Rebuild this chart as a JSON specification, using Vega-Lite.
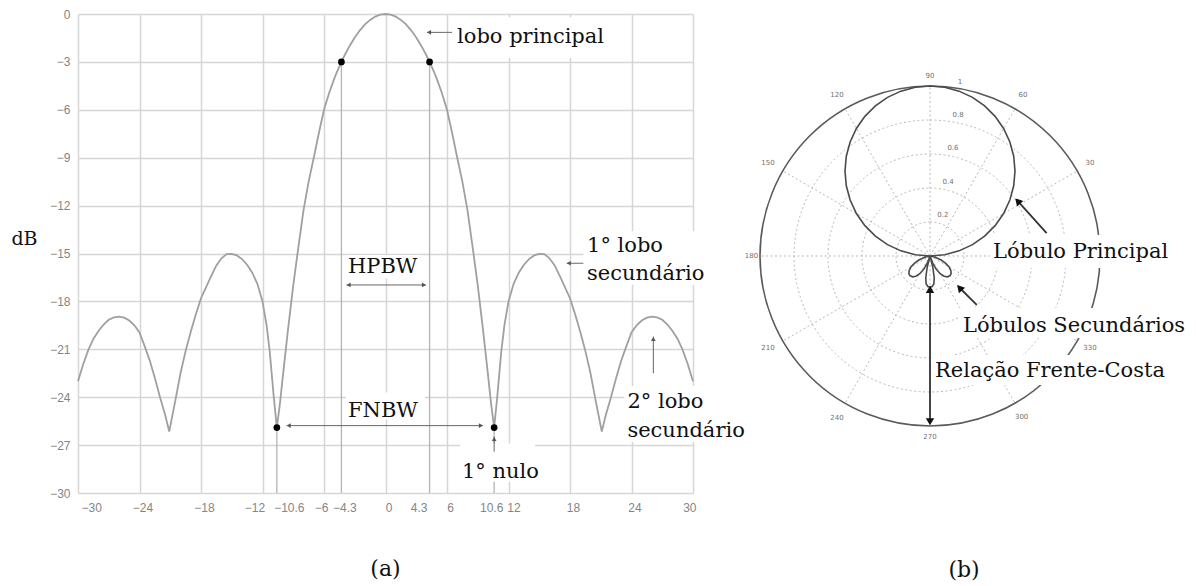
{
  "$schema": "https://vega.github.io/schema/vega-lite/v6.json",
  "background": "white",
  "padding": {"left": 10, "top": 8, "right": 0, "bottom": 0},
  "spacing": 50,
  "bounds": "flush",
  "config": {"view": {"stroke": null}},
  "datasets": {
    "lobe": [
      {"angle": -30, "db": -23.0}, {"angle": -29.5, "db": -21.95}, {"angle": -29, "db": -21.05}, {"angle": -28.5, "db": -20.35},
      {"angle": -28, "db": -19.85}, {"angle": -27.5, "db": -19.45}, {"angle": -27, "db": -19.15}, {"angle": -26.5, "db": -19.0},
      {"angle": -26, "db": -18.95}, {"angle": -25.5, "db": -19.02}, {"angle": -25, "db": -19.2}, {"angle": -24.5, "db": -19.5},
      {"angle": -24, "db": -19.95}, {"angle": -23.5, "db": -20.8}, {"angle": -23, "db": -21.7}, {"angle": -22.5, "db": -22.8},
      {"angle": -22, "db": -24.0}, {"angle": -21.5, "db": -25.1}, {"angle": -21.1, "db": -26.15}, {"angle": -20.5, "db": -24.2},
      {"angle": -20, "db": -22.5}, {"angle": -19.5, "db": -21.1}, {"angle": -19, "db": -19.9}, {"angle": -18.5, "db": -18.8},
      {"angle": -18, "db": -17.8}, {"angle": -17.5, "db": -17.1}, {"angle": -17, "db": -16.4}, {"angle": -16.5, "db": -15.75},
      {"angle": -16, "db": -15.3}, {"angle": -15.5, "db": -15.04}, {"angle": -15, "db": -15.02}, {"angle": -14.5, "db": -15.12},
      {"angle": -14, "db": -15.35}, {"angle": -13.5, "db": -15.7}, {"angle": -13, "db": -16.2}, {"angle": -12.5, "db": -16.9},
      {"angle": -12, "db": -18.0}, {"angle": -11.6, "db": -19.5}, {"angle": -11.3, "db": -21.1}, {"angle": -10.9, "db": -24.0},
      {"angle": -10.6, "db": -25.9}, {"angle": -10.3, "db": -24.4}, {"angle": -10, "db": -22.6}, {"angle": -9.5, "db": -19.7},
      {"angle": -9, "db": -17.0}, {"angle": -8.5, "db": -14.6}, {"angle": -8, "db": -12.3}, {"angle": -7.5, "db": -10.5},
      {"angle": -7, "db": -9.0}, {"angle": -6.5, "db": -7.45}, {"angle": -6, "db": -6.0}, {"angle": -5.5, "db": -4.95},
      {"angle": -5, "db": -4.05}, {"angle": -4.75, "db": -3.65}, {"angle": -4.3, "db": -3.0}, {"angle": -4, "db": -2.6},
      {"angle": -3.5, "db": -2.0}, {"angle": -3, "db": -1.47}, {"angle": -2.5, "db": -1.02}, {"angle": -2, "db": -0.65},
      {"angle": -1.5, "db": -0.37}, {"angle": -1, "db": -0.16}, {"angle": -0.5, "db": -0.04}, {"angle": 0, "db": 0},
      {"angle": 0.5, "db": -0.04}, {"angle": 1, "db": -0.16}, {"angle": 1.5, "db": -0.37}, {"angle": 2, "db": -0.65},
      {"angle": 2.5, "db": -1.02}, {"angle": 3, "db": -1.47}, {"angle": 3.5, "db": -2.0}, {"angle": 4, "db": -2.6},
      {"angle": 4.3, "db": -3.0}, {"angle": 4.75, "db": -3.65}, {"angle": 5, "db": -4.05}, {"angle": 5.5, "db": -4.95},
      {"angle": 6, "db": -6.0}, {"angle": 6.5, "db": -7.45}, {"angle": 7, "db": -9.0}, {"angle": 7.5, "db": -10.5},
      {"angle": 8, "db": -12.3}, {"angle": 8.5, "db": -14.6}, {"angle": 9, "db": -17.0}, {"angle": 9.5, "db": -19.7},
      {"angle": 10, "db": -22.6}, {"angle": 10.3, "db": -24.4}, {"angle": 10.6, "db": -25.9}, {"angle": 10.9, "db": -24.0},
      {"angle": 11.3, "db": -21.1}, {"angle": 11.6, "db": -19.5}, {"angle": 12, "db": -18.0}, {"angle": 12.5, "db": -16.9},
      {"angle": 13, "db": -16.2}, {"angle": 13.5, "db": -15.7}, {"angle": 14, "db": -15.35}, {"angle": 14.5, "db": -15.12},
      {"angle": 15, "db": -15.02}, {"angle": 15.5, "db": -15.04}, {"angle": 16, "db": -15.3}, {"angle": 16.5, "db": -15.75},
      {"angle": 17, "db": -16.4}, {"angle": 17.5, "db": -17.1}, {"angle": 18, "db": -17.8}, {"angle": 18.5, "db": -18.8},
      {"angle": 19, "db": -19.9}, {"angle": 19.5, "db": -21.1}, {"angle": 20, "db": -22.5}, {"angle": 20.5, "db": -24.2},
      {"angle": 21.1, "db": -26.15}, {"angle": 21.5, "db": -25.1}, {"angle": 22, "db": -24.0}, {"angle": 22.5, "db": -22.8},
      {"angle": 23, "db": -21.7}, {"angle": 23.5, "db": -20.8}, {"angle": 24, "db": -19.95}, {"angle": 24.5, "db": -19.5},
      {"angle": 25, "db": -19.2}, {"angle": 25.5, "db": -19.02}, {"angle": 26, "db": -18.95}, {"angle": 26.5, "db": -19.0},
      {"angle": 27, "db": -19.15}, {"angle": 27.5, "db": -19.45}, {"angle": 28, "db": -19.85}, {"angle": 28.5, "db": -20.35},
      {"angle": 29, "db": -21.05}, {"angle": 29.5, "db": -21.95}, {"angle": 30, "db": -23.0}
    ],
    "markers": [
      {"angle": -10.6, "db": -25.9}, {"angle": -4.3, "db": -3.0}, {"angle": 4.3, "db": -3.0}, {"angle": 10.6, "db": -25.9}
    ],
    "boxesA": [
      {"angle": 6.5, "angle2": 21.9, "db": -0.2, "db2": -2.75},
      {"angle": -3.7, "angle2": 3.6, "db": -15.1, "db2": -16.55},
      {"angle": -3.85, "angle2": 3.85, "db": -23.7, "db2": -25.4},
      {"angle": 19.3, "angle2": 31.2, "db": -13.6, "db2": -16.95},
      {"angle": 23.3, "angle2": 35.1, "db": -23.3, "db2": -26.8},
      {"angle": 7.3, "angle2": 14.6, "db": -26.9, "db2": -29.3}
    ],
    "arrowsA": [
      {"angle": 4.05, "angle2": 6.5, "db": -1.15, "db2": -1.15},
      {"angle": -3.8, "angle2": 3.95, "db": -16.97, "db2": -16.97},
      {"angle": -9.64, "angle2": 9.51, "db": -25.78, "db2": -25.78},
      {"angle": 17.68, "angle2": 19.3, "db": -15.61, "db2": -15.61},
      {"angle": 26.13, "angle2": 26.13, "db": -20.2, "db2": -22.5},
      {"angle": 10.6, "angle2": 10.6, "db": -26.47, "db2": -27.41}
    ],
    "headsA": [
      {"angle": 4.25, "db": -1.15, "dir": "left"},
      {"angle": -3.6, "db": -16.97, "dir": "left"},
      {"angle": -9.44, "db": -25.78, "dir": "left"},
      {"angle": 17.88, "db": -15.61, "dir": "left"},
      {"angle": 3.75, "db": -16.97, "dir": "right"},
      {"angle": 9.31, "db": -25.78, "dir": "right"},
      {"angle": 26.13, "db": -20.35, "dir": "up"},
      {"angle": 10.6, "db": -26.62, "dir": "up"}
    ],
    "textsA": [
      {"angle": 6.98, "db": -1.84, "label": "lobo principal"},
      {"angle": -3.66, "db": -16.2, "label": "HPBW"},
      {"angle": -3.66, "db": -25.23, "label": "FNBW"},
      {"angle": 19.66, "db": -14.9, "label": "1° lobo"},
      {"angle": 19.66, "db": -16.66, "label": "secundário"},
      {"angle": 23.6, "db": -24.67, "label": "2° lobo"},
      {"angle": 23.6, "db": -26.49, "label": "secundário"},
      {"angle": 7.46, "db": -29.05, "label": "1° nulo"}
    ],
    "rings": [{"r": 0.2}, {"r": 0.4}, {"r": 0.6}, {"r": 0.8}, {"r": 1.0}],
    "spokes": [
      {"horiz": 0, "vert": 0, "horiz2": 1, "vert2": 0}, {"horiz": 0, "vert": 0, "horiz2": 0.866, "vert2": 0.5},
      {"horiz": 0, "vert": 0, "horiz2": 0.5, "vert2": 0.866}, {"horiz": 0, "vert": 0, "horiz2": 0, "vert2": 1},
      {"horiz": 0, "vert": 0, "horiz2": -0.5, "vert2": 0.866}, {"horiz": 0, "vert": 0, "horiz2": -0.866, "vert2": 0.5},
      {"horiz": 0, "vert": 0, "horiz2": -1, "vert2": 0}, {"horiz": 0, "vert": 0, "horiz2": -0.866, "vert2": -0.5},
      {"horiz": 0, "vert": 0, "horiz2": -0.5, "vert2": -0.866}, {"horiz": 0, "vert": 0, "horiz2": 0, "vert2": -1},
      {"horiz": 0, "vert": 0, "horiz2": 0.5, "vert2": -0.866}, {"horiz": 0, "vert": 0, "horiz2": 0.866, "vert2": -0.5}
    ],
    "pattern": [
      {"t": 0, "horiz": 0, "vert": 0}, {"t": 5, "horiz": 0.0868, "vert": 0.0076}, {"t": 10, "horiz": 0.171, "vert": 0.0302},
      {"t": 15, "horiz": 0.25, "vert": 0.067}, {"t": 20, "horiz": 0.3214, "vert": 0.117}, {"t": 25, "horiz": 0.383, "vert": 0.1786},
      {"t": 30, "horiz": 0.433, "vert": 0.25}, {"t": 35, "horiz": 0.4698, "vert": 0.329}, {"t": 40, "horiz": 0.4924, "vert": 0.4132},
      {"t": 45, "horiz": 0.5, "vert": 0.5}, {"t": 50, "horiz": 0.4924, "vert": 0.5868}, {"t": 55, "horiz": 0.4698, "vert": 0.671},
      {"t": 60, "horiz": 0.433, "vert": 0.75}, {"t": 65, "horiz": 0.383, "vert": 0.8214}, {"t": 70, "horiz": 0.3214, "vert": 0.883},
      {"t": 75, "horiz": 0.25, "vert": 0.933}, {"t": 80, "horiz": 0.171, "vert": 0.9698}, {"t": 85, "horiz": 0.0868, "vert": 0.9924},
      {"t": 90, "horiz": 0, "vert": 1}, {"t": 95, "horiz": -0.0868, "vert": 0.9924}, {"t": 100, "horiz": -0.171, "vert": 0.9698},
      {"t": 105, "horiz": -0.25, "vert": 0.933}, {"t": 110, "horiz": -0.3214, "vert": 0.883}, {"t": 115, "horiz": -0.383, "vert": 0.8214},
      {"t": 120, "horiz": -0.433, "vert": 0.75}, {"t": 125, "horiz": -0.4698, "vert": 0.671}, {"t": 130, "horiz": -0.4924, "vert": 0.5868},
      {"t": 135, "horiz": -0.5, "vert": 0.5}, {"t": 140, "horiz": -0.4924, "vert": 0.4132}, {"t": 145, "horiz": -0.4698, "vert": 0.329},
      {"t": 150, "horiz": -0.433, "vert": 0.25}, {"t": 155, "horiz": -0.383, "vert": 0.1786}, {"t": 160, "horiz": -0.3214, "vert": 0.117},
      {"t": 165, "horiz": -0.25, "vert": 0.067}, {"t": 170, "horiz": -0.171, "vert": 0.0302}, {"t": 175, "horiz": -0.0868, "vert": 0.0076},
      {"t": 180, "horiz": 0, "vert": 0}, {"t": 190, "horiz": -0.0197, "vert": -0.0035}, {"t": 200, "horiz": -0.0658, "vert": -0.0239},
      {"t": 205, "horiz": -0.0906, "vert": -0.0423}, {"t": 210, "horiz": -0.1126, "vert": -0.065}, {"t": 215, "horiz": -0.1229, "vert": -0.086},
      {"t": 220, "horiz": -0.1241, "vert": -0.1041}, {"t": 225, "horiz": -0.1167, "vert": -0.1167}, {"t": 230, "horiz": -0.1028, "vert": -0.1226},
      {"t": 235, "horiz": -0.0832, "vert": -0.1188}, {"t": 240, "horiz": -0.06, "vert": -0.1039}, {"t": 245, "horiz": -0.0359, "vert": -0.077},
      {"t": 250, "horiz": -0.0137, "vert": -0.0376}, {"t": 253, "horiz": 0, "vert": 0}, {"t": 256, "horiz": -0.0169, "vert": -0.0679},
      {"t": 259, "horiz": -0.0248, "vert": -0.1276}, {"t": 262, "horiz": -0.023, "vert": -0.1634}, {"t": 266, "horiz": -0.0126, "vert": -0.1796},
      {"t": 270, "horiz": 0, "vert": -0.183}, {"t": 274, "horiz": 0.0126, "vert": -0.1796}, {"t": 278, "horiz": 0.023, "vert": -0.1634},
      {"t": 281, "horiz": 0.0248, "vert": -0.1276}, {"t": 284, "horiz": 0.0169, "vert": -0.0679}, {"t": 287, "horiz": 0, "vert": 0},
      {"t": 290, "horiz": 0.0137, "vert": -0.0376}, {"t": 295, "horiz": 0.0359, "vert": -0.077}, {"t": 300, "horiz": 0.06, "vert": -0.1039},
      {"t": 305, "horiz": 0.0832, "vert": -0.1188}, {"t": 310, "horiz": 0.1028, "vert": -0.1226}, {"t": 315, "horiz": 0.1167, "vert": -0.1167},
      {"t": 320, "horiz": 0.1241, "vert": -0.1041}, {"t": 325, "horiz": 0.1229, "vert": -0.086}, {"t": 330, "horiz": 0.1126, "vert": -0.065},
      {"t": 335, "horiz": 0.0906, "vert": -0.0423}, {"t": 340, "horiz": 0.0658, "vert": -0.0239}, {"t": 350, "horiz": 0.0197, "vert": -0.0035},
      {"t": 360, "horiz": 0, "vert": 0}
    ],
    "polarLabels": [
      {"horiz": 0, "vert": 1.059, "label": "90"}, {"horiz": 0.547, "vert": 0.947, "label": "60"},
      {"horiz": 0.941, "vert": 0.547, "label": "30"}, {"horiz": -0.547, "vert": 0.947, "label": "120"},
      {"horiz": -0.953, "vert": 0.547, "label": "150"}, {"horiz": -1.05, "vert": 0, "label": "180"},
      {"horiz": -0.953, "vert": -0.541, "label": "210"}, {"horiz": -0.547, "vert": -0.953, "label": "240"},
      {"horiz": 0, "vert": -1.065, "label": "270"}, {"horiz": 0.539, "vert": -0.945, "label": "300"},
      {"horiz": 0.941, "vert": -0.541, "label": "330"},
      {"horiz": 0.176, "vert": 1.024, "label": "1"}, {"horiz": 0.165, "vert": 0.829, "label": "0.8"},
      {"horiz": 0.135, "vert": 0.635, "label": "0.6"}, {"horiz": 0.106, "vert": 0.435, "label": "0.4"},
      {"horiz": 0.076, "vert": 0.241, "label": "0.2"}
    ],
    "boxesB": [
      {"horiz": 0.353, "horiz2": 1.412, "vert": 0.124, "vert2": -0.071},
      {"horiz": 0.176, "horiz2": 1.53, "vert": -0.306, "vert2": -0.482},
      {"horiz": 0.018, "horiz2": 1.382, "vert": -0.582, "vert2": -0.759}
    ],
    "arrowsB": [
      {"horiz": 0.686, "horiz2": 0.51, "vert": 0.135, "vert2": 0.33},
      {"horiz": 0.275, "horiz2": 0.165, "vert": -0.288, "vert2": -0.178},
      {"horiz": 0, "horiz2": 0, "vert": -0.19, "vert2": -0.98}
    ],
    "headsB": [
      {"horiz": 0.516, "vert": 0.323, "dir": "upleft"},
      {"horiz": 0.174, "vert": -0.187, "dir": "upleft"},
      {"horiz": 0, "vert": -0.196, "dir": "up"},
      {"horiz": 0, "vert": -0.975, "dir": "down"}
    ],
    "textsB": [
      {"horiz": 0.371, "vert": -0.012, "label": "Lóbulo Principal"},
      {"horiz": 0.194, "vert": -0.445, "label": "Lóbulos Secundários"},
      {"horiz": 0.029, "vert": -0.71, "label": "Relação Frente-Costa"}
    ]
  },
  "hconcat": [
    {
      "width": 615,
      "height": 479,
      "title": {"text": "(a)", "orient": "bottom", "offset": 46, "font": "DejaVu Serif", "fontSize": 22, "fontWeight": "normal", "color": "#111"},
      "layer": [
        {
          "data": {"name": "markers"},
          "mark": {"type": "rule", "color": "#b4b4b4", "strokeWidth": 1.3},
          "encoding": {
            "x": {
              "field": "angle", "type": "quantitative",
              "scale": {"domain": [-30, 30], "nice": false, "zero": false},
              "axis": {
                "title": null,
                "values": [-30, -24, -18, -12, -10.6, -6, -4.3, 0, 4.3, 6, 10.6, 12, 18, 24, 30],
                "format": ".3~g",
                "domain": false, "ticks": false, "tickSize": 0,
                "grid": true, "gridColor": "#d6d6d6", "gridWidth": 1.5,
                "gridOpacity": {"condition": {"test": "abs(datum.value) == 10.6 || abs(datum.value) == 4.3", "value": 0}, "value": 1},
                "labelFont": "Liberation Sans", "labelFontSize": 12, "labelColor": "#858585",
                "labelPadding": 9, "labelOverlap": false,
                "labelOffset": {"condition": [
                  {"test": "datum.value == -12", "value": -8},
                  {"test": "datum.value == -10.6", "value": 12},
                  {"test": "datum.value == 4.3", "value": -11},
                  {"test": "datum.value == -6", "value": -3},
                  {"test": "datum.value == 10.6", "value": -3},
                  {"test": "datum.value == 12", "value": 5}
                ], "value": 3}
              }
            },
            "y": {
              "field": "db", "type": "quantitative",
              "scale": {"domain": [-30, 0], "nice": false, "zero": false},
              "axis": {
                "title": "dB",
                "values": [0, -3, -6, -9, -12, -15, -18, -21, -24, -27, -30],
                "format": ".3~g",
                "domain": false, "ticks": false, "tickSize": 0,
                "grid": true, "gridColor": "#d6d6d6", "gridWidth": 1.5,
                "labelFont": "Liberation Sans", "labelFontSize": 12, "labelColor": "#858585",
                "labelPadding": 8,
                "titleAngle": 0, "titleX": -54, "titleY": 230,
                "titleAlign": "center", "titleBaseline": "alphabetic",
                "titleFont": "DejaVu Serif", "titleFontSize": 19, "titleFontWeight": "normal", "titleColor": "#111"
              }
            },
            "y2": {"datum": -30}
          }
        },
        {
          "data": {"name": "boxesA"},
          "mark": {"type": "rect", "color": "white"},
          "encoding": {
            "x": {"field": "angle", "type": "quantitative"},
            "x2": {"field": "angle2"},
            "y": {"field": "db", "type": "quantitative"},
            "y2": {"field": "db2"}
          }
        },
        {
          "data": {"name": "lobe"},
          "mark": {"type": "line", "color": "#a0a0a0", "strokeWidth": 1.8},
          "encoding": {
            "x": {"field": "angle", "type": "quantitative"},
            "y": {"field": "db", "type": "quantitative"}
          }
        },
        {
          "data": {"name": "markers"},
          "mark": {"type": "point", "filled": true, "color": "black", "size": 45, "opacity": 1},
          "encoding": {
            "x": {"field": "angle", "type": "quantitative"},
            "y": {"field": "db", "type": "quantitative"}
          }
        },
        {
          "data": {"name": "arrowsA"},
          "mark": {"type": "rule", "color": "#666", "strokeWidth": 1},
          "encoding": {
            "x": {"field": "angle", "type": "quantitative"},
            "x2": {"field": "angle2"},
            "y": {"field": "db", "type": "quantitative"},
            "y2": {"field": "db2"}
          }
        },
        {
          "data": {"name": "headsA"},
          "transform": [{"filter": "datum.dir == 'left'"}],
          "mark": {"type": "point", "shape": "triangle-left", "filled": true, "color": "#555", "size": 22, "opacity": 1},
          "encoding": {
            "x": {"field": "angle", "type": "quantitative"},
            "y": {"field": "db", "type": "quantitative"}
          }
        },
        {
          "data": {"name": "headsA"},
          "transform": [{"filter": "datum.dir == 'right'"}],
          "mark": {"type": "point", "shape": "triangle-right", "filled": true, "color": "#555", "size": 22, "opacity": 1},
          "encoding": {
            "x": {"field": "angle", "type": "quantitative"},
            "y": {"field": "db", "type": "quantitative"}
          }
        },
        {
          "data": {"name": "headsA"},
          "transform": [{"filter": "datum.dir == 'up'"}],
          "mark": {"type": "point", "shape": "triangle-up", "filled": true, "color": "#555", "size": 22, "opacity": 1},
          "encoding": {
            "x": {"field": "angle", "type": "quantitative"},
            "y": {"field": "db", "type": "quantitative"}
          }
        },
        {
          "data": {"name": "textsA"},
          "mark": {"type": "text", "align": "left", "baseline": "alphabetic", "font": "DejaVu Serif", "fontSize": 21, "color": "#111"},
          "encoding": {
            "x": {"field": "angle", "type": "quantitative"},
            "y": {"field": "db", "type": "quantitative"},
            "text": {"field": "label"}
          }
        }
      ]
    },
    {
      "width": 442,
      "height": 479,
      "title": {"text": "(b)", "orient": "bottom", "offset": 67, "font": "DejaVu Serif", "fontSize": 22, "fontWeight": "normal", "color": "#111"},
      "layer": [
        {
          "data": {"name": "rings"},
          "transform": [{"filter": "datum.r < 1"}],
          "mark": {"type": "arc", "theta": 0, "theta2": 6.2832, "filled": false, "stroke": "#b8b8b8", "strokeWidth": 1, "strokeDash": [2, 2.5]},
          "encoding": {
            "x": {"datum": 0, "type": "quantitative", "scale": {"domain": [-1.1, 1.5], "nice": false, "zero": false}, "axis": null},
            "y": {"datum": 0, "type": "quantitative", "scale": {"domain": [-1.3941, 1.4235], "nice": false, "zero": false}, "axis": null},
            "radius": {"field": "r", "type": "quantitative", "stack": null, "scale": {"type": "linear", "domain": [0, 1], "range": [0, 170], "zero": true, "nice": false}}
          }
        },
        {
          "data": {"name": "spokes"},
          "mark": {"type": "rule", "color": "#b8b8b8", "strokeWidth": 1, "strokeDash": [2, 2.5]},
          "encoding": {
            "x": {"field": "horiz", "type": "quantitative", "axis": null},
            "y": {"field": "vert", "type": "quantitative", "axis": null},
            "x2": {"field": "horiz2"},
            "y2": {"field": "vert2"}
          }
        },
        {
          "data": {"name": "rings"},
          "transform": [{"filter": "datum.r == 1"}],
          "mark": {"type": "arc", "theta": 0, "theta2": 6.2832, "filled": false, "stroke": "#5a5a5a", "strokeWidth": 1.6},
          "encoding": {
            "x": {"datum": 0, "type": "quantitative", "axis": null},
            "y": {"datum": 0, "type": "quantitative", "axis": null},
            "radius": {"field": "r", "type": "quantitative", "stack": null}
          }
        },
        {
          "data": {"name": "polarLabels"},
          "mark": {"type": "text", "align": "center", "baseline": "middle", "font": "DejaVu Sans", "fontSize": 7, "color": "#707070"},
          "encoding": {
            "x": {"field": "horiz", "type": "quantitative", "axis": null},
            "y": {"field": "vert", "type": "quantitative", "axis": null},
            "text": {"field": "label"}
          }
        },
        {
          "data": {"name": "boxesB"},
          "mark": {"type": "rect", "color": "white"},
          "encoding": {
            "x": {"field": "horiz", "type": "quantitative", "axis": null},
            "x2": {"field": "horiz2"},
            "y": {"field": "vert", "type": "quantitative", "axis": null},
            "y2": {"field": "vert2"}
          }
        },
        {
          "data": {"name": "pattern"},
          "mark": {"type": "line", "color": "#4a4a4a", "strokeWidth": 1.6},
          "encoding": {
            "x": {"field": "horiz", "type": "quantitative", "axis": null},
            "y": {"field": "vert", "type": "quantitative", "axis": null},
            "order": {"field": "t", "type": "quantitative"}
          }
        },
        {
          "data": {"name": "arrowsB"},
          "mark": {"type": "rule", "color": "#333", "strokeWidth": 1.8},
          "encoding": {
            "x": {"field": "horiz", "type": "quantitative", "axis": null},
            "x2": {"field": "horiz2"},
            "y": {"field": "vert", "type": "quantitative", "axis": null},
            "y2": {"field": "vert2"}
          }
        },
        {
          "data": {"name": "headsB"},
          "transform": [{"filter": "datum.dir == 'upleft'"}],
          "mark": {"type": "point", "shape": "triangle-up", "angle": 318, "filled": true, "color": "#111", "size": 70, "opacity": 1},
          "encoding": {
            "x": {"field": "horiz", "type": "quantitative", "axis": null},
            "y": {"field": "vert", "type": "quantitative", "axis": null}
          }
        },
        {
          "data": {"name": "headsB"},
          "transform": [{"filter": "datum.dir == 'up'"}],
          "mark": {"type": "point", "shape": "triangle-up", "filled": true, "color": "#111", "size": 70, "opacity": 1},
          "encoding": {
            "x": {"field": "horiz", "type": "quantitative", "axis": null},
            "y": {"field": "vert", "type": "quantitative", "axis": null}
          }
        },
        {
          "data": {"name": "headsB"},
          "transform": [{"filter": "datum.dir == 'down'"}],
          "mark": {"type": "point", "shape": "triangle-down", "filled": true, "color": "#111", "size": 70, "opacity": 1},
          "encoding": {
            "x": {"field": "horiz", "type": "quantitative", "axis": null},
            "y": {"field": "vert", "type": "quantitative", "axis": null}
          }
        },
        {
          "data": {"name": "textsB"},
          "mark": {"type": "text", "align": "left", "baseline": "alphabetic", "font": "DejaVu Serif", "fontSize": 21, "color": "#111"},
          "encoding": {
            "x": {"field": "horiz", "type": "quantitative", "axis": null},
            "y": {"field": "vert", "type": "quantitative", "axis": null},
            "text": {"field": "label"}
          }
        }
      ]
    }
  ]
}
